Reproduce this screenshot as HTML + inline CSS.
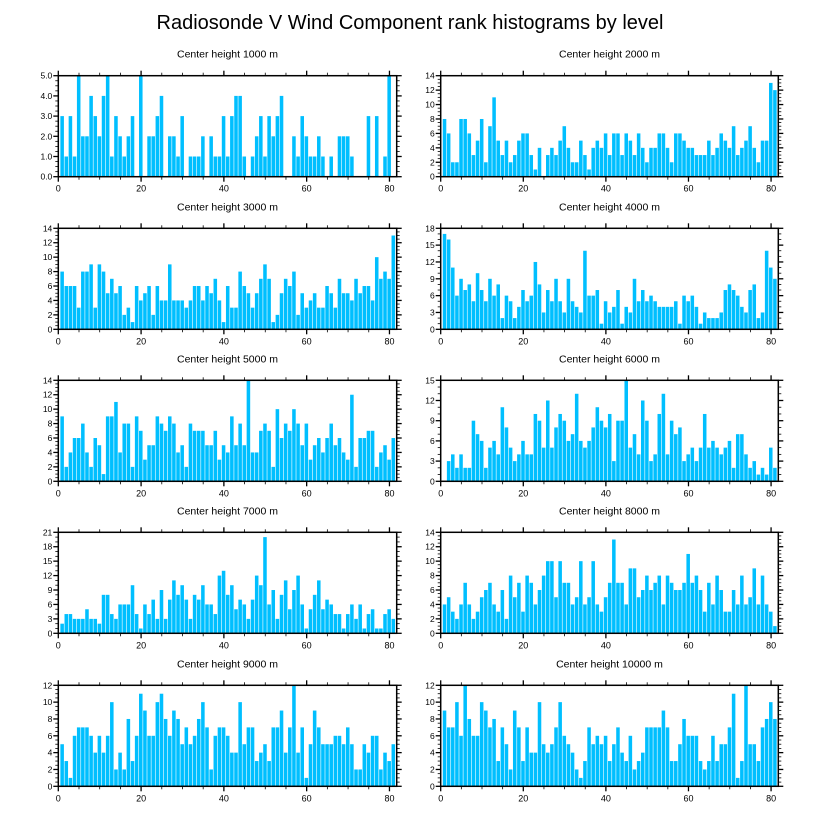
<!DOCTYPE html>
<html><head><meta charset="utf-8"><style>
html,body{margin:0;padding:0;background:#fff;}
svg{display:block;font-family:"Liberation Sans",sans-serif;}
</style></head><body>
<svg id="chart" width="818" height="824" viewBox="0 0 818 824">
<text x="410" y="29" text-anchor="middle" font-size="20" fill="#000">Radiosonde V Wind Component rank histograms by level</text>
</svg>
<script>
const levelTitles = ["Center height 1000 m","Center height 2000 m","Center height 3000 m","Center height 4000 m","Center height 5000 m","Center height 6000 m","Center height 7000 m","Center height 8000 m","Center height 9000 m","Center height 10000 m"];
const yMaxes = [5,14,14,18,14,15,21,14,12,12];
const yMajorSteps = [1,2,2,3,2,3,3,2,2,2];
const xTickLabels = [0,20,40,60,80];
const counts1000 = [3,1,3,1,5,2,2,4,3,2,4,5,1,3,2,1,2,3,0,5,0,2,2,3,4,0,2,2,1,3,0,1,1,1,2,0,2,1,1,3,1,3,4,4,1,0,1,2,3,1,3,2,3,4,0,0,2,1,3,2,1,1,2,1,0,1,0,2,2,2,1,0,0,0,3,0,3,0,1,5,0];
const counts2000 = [8,6,2,2,8,8,6,3,5,8,2,7,11,5,3,5,2,3,5,6,6,3,1,4,0,3,4,3,5,7,4,2,2,5,3,1,4,5,4,6,3,6,6,3,6,5,3,6,4,2,4,4,6,6,4,2,6,6,5,4,4,3,3,3,5,3,4,6,5,4,7,3,4,5,7,4,2,5,5,13,12];
const counts3000 = [8,6,6,6,3,8,8,9,3,9,8,5,7,5,6,2,3,1,6,4,5,6,2,6,4,4,9,4,4,4,3,4,6,6,4,6,5,7,4,1,6,3,3,8,6,5,3,5,7,9,7,1,2,5,7,6,8,2,5,3,4,5,3,3,6,5,3,7,5,5,4,7,5,6,6,4,10,7,8,7,13];
const counts4000 = [17,16,11,6,9,7,8,5,10,7,5,9,6,8,2,6,5,2,4,7,5,6,12,8,3,7,5,9,5,3,9,5,4,3,14,6,6,7,1,5,3,4,7,1,4,3,9,5,7,5,6,5,4,4,4,4,5,1,6,5,6,4,1,3,2,2,2,3,7,8,7,6,4,3,7,8,2,3,14,11,9];
const counts5000 = [9,2,4,6,6,8,4,2,6,5,1,9,9,11,4,8,8,2,9,7,3,5,5,9,8,7,9,8,4,5,2,8,7,7,7,5,5,7,3,5,4,9,5,8,5,14,4,4,7,8,7,2,10,6,8,7,10,8,5,8,3,5,6,4,6,8,5,6,4,3,12,2,6,6,7,7,2,4,5,3,6];
const counts6000 = [0,3,4,2,4,2,2,9,7,6,2,5,6,4,11,8,5,3,4,6,4,4,10,9,5,12,5,8,10,9,6,7,13,6,5,6,8,11,9,8,10,3,9,9,15,5,7,4,12,9,3,4,10,13,4,9,7,8,3,4,5,3,5,10,5,6,5,4,5,6,2,7,7,4,2,3,1,2,1,5,2];
const counts7000 = [2,4,4,3,3,3,5,3,3,2,8,8,4,3,6,6,6,10,4,1,6,4,7,3,9,3,7,11,8,10,7,3,8,7,10,6,6,4,12,13,8,10,5,7,6,3,7,12,10,20,6,9,3,8,11,5,9,12,6,1,5,8,11,5,7,6,4,4,1,4,6,3,6,1,4,5,1,1,4,5,3];
const counts8000 = [4,5,3,2,4,7,4,2,3,5,6,7,4,3,6,2,8,5,7,3,8,7,4,6,8,10,10,5,10,7,7,4,5,10,4,5,10,4,3,5,7,13,7,7,4,9,9,5,6,8,6,7,8,4,8,7,6,6,7,11,7,8,6,3,7,4,8,6,3,3,6,4,8,4,5,9,4,8,4,3,1];
const counts9000 = [5,3,1,6,7,7,7,6,4,6,4,6,10,2,4,2,8,3,6,11,9,6,6,10,11,8,6,9,8,5,7,5,6,8,10,7,2,6,7,7,6,4,4,10,5,7,7,3,4,5,3,7,7,9,4,7,12,4,7,1,5,9,7,5,5,5,6,6,5,7,5,2,2,5,4,6,6,2,4,3,5];
const counts10000 = [9,7,7,10,6,12,8,6,6,10,9,7,8,3,7,5,2,9,7,3,7,4,4,10,5,4,5,7,10,6,5,4,2,1,3,7,5,6,5,6,3,5,7,4,3,6,2,3,4,7,7,7,7,9,7,3,3,5,8,6,6,6,3,2,3,6,3,5,5,7,11,1,3,12,5,5,3,7,8,10,8];
const allCounts = [counts1000,counts2000,counts3000,counts4000,counts5000,counts6000,counts7000,counts8000,counts9000,counts10000];

const NS = "http://www.w3.org/2000/svg";
const svg = document.getElementById("chart");
function mk(tag, attrs, parent){
  const e = document.createElementNS(NS, tag);
  for (const k in attrs) e.setAttribute(k, attrs[k]);
  (parent||svg).appendChild(e);
  return e;
}
const colX = [58.3, 440.7];
const plotW = [338.4, 337.6];
const rowTop = [75.7, 228.3, 380.3, 532.3, 685.3];
const plotH = 101;
const X_MAX = 81.75;

allCounts.forEach((counts, p) => {
  const col = p % 2, row = Math.floor(p / 2);
  const x0 = colX[col], w = plotW[col], y0 = rowTop[row], h = plotH;
  const ymax = yMaxes[p], step = yMajorSteps[p];
  const xs = v => x0 + v / X_MAX * w;
  const ys = v => y0 + h - v / ymax * h;
  const g = mk("g", {});
  
  

  const t = mk("text", {x: x0 + w/2, y: y0 - 18, "text-anchor":"middle", "font-size":"10.5", fill:"#000"}, g);
  t.textContent = levelTitles[p];
  
  

  counts.forEach((c, i) => {
    if (c <= 0) return;
    const cx = i + 1;
    if (cx + 0.5 > X_MAX + 0.01) return;
    const left = xs(cx - 0.5), right = xs(cx + 0.5);
    const r = mk("rect", {x: left, y: ys(c), width: Math.max(0, right - left - 0.6), height: ys(0) - ys(c), fill:"#00bfff"}, g);
    
    
  });

  const fr = mk("rect", {x: x0, y: y0, width: w, height: h, fill:"none", stroke:"#000", "stroke-width":"1.5"}, g);
  
  

  for (let v = 0; v <= 80; v += 5) {
    const major = v % 20 === 0, L = major ? 5 : 3, xx = xs(v);
    mk("line", {x1: xx, y1: y0 + h, x2: xx, y2: y0 + h + L, stroke:"#000", "stroke-width": major ? 1.3 : 0.8}, g);
    mk("line", {x1: xx, y1: y0, x2: xx, y2: y0 - L, stroke:"#000", "stroke-width": major ? 1.3 : 0.8}, g);
  }
  xTickLabels.forEach(v => {
    const tl = mk("text", {x: xs(v), y: y0 + h + 15, "text-anchor":"middle", "font-size":"9", fill:"#000"}, g);
    tl.textContent = v;
    
    
  });

  const minorStep = step / (step === 3 ? 3 : 4);
  for (let v = 0; v <= ymax + 1e-9; v += minorStep) {
    const major = Math.abs(v / step - Math.round(v / step)) < 1e-6, L = major ? 5 : 3, yy = ys(v);
    mk("line", {x1: x0, y1: yy, x2: x0 - L, y2: yy, stroke:"#000", "stroke-width": major ? 1.3 : 0.8}, g);
    mk("line", {x1: x0 + w, y1: yy, x2: x0 + w + L, y2: yy, stroke:"#000", "stroke-width": major ? 1.3 : 0.8}, g);
  }
  for (let v = 0; v <= ymax + 1e-9; v += step) {
    const yl = mk("text", {x: x0 - 6, y: ys(v) + 3, "text-anchor":"end", "font-size":"8.5", fill:"#000"}, g);
    yl.textContent = ymax === 5 ? v.toFixed(1) : v;
    
    
  }
});
</script>
</body></html>
